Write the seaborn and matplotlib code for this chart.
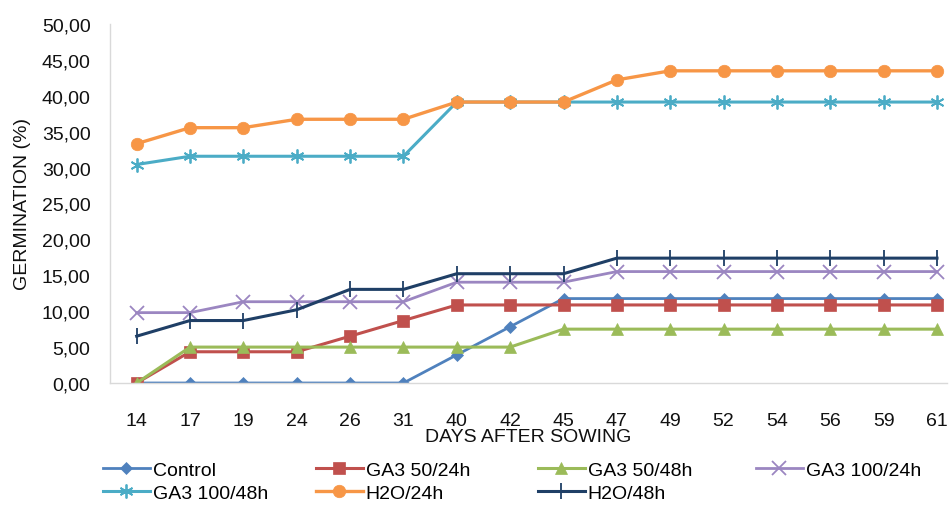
import matplotlib
matplotlib.use("Agg")
import matplotlib.pyplot as plt
import seaborn as sns
import pandas as pd
from matplotlib.ticker import FuncFormatter

days = ["14", "17", "19", "24", "26", "31", "40", "42", "45", "47", "49", "52", "54", "56", "59", "61"]

control      = [0, 0, 0, 0, 0, 0, 3.92, 7.84, 11.76, 11.76, 11.76, 11.76, 11.76, 11.76, 11.76, 11.76]
ga3_50_24    = [0, 4.35, 4.35, 4.35, 6.52, 8.70, 10.87, 10.87, 10.87, 10.87, 10.87, 10.87, 10.87, 10.87, 10.87, 10.87]
ga3_50_48    = [0, 5.0, 5.0, 5.0, 5.0, 5.0, 5.0, 5.0, 7.5, 7.5, 7.5, 7.5, 7.5, 7.5, 7.5, 7.5]
ga3_100_24   = [9.80, 9.80, 11.32, 11.32, 11.32, 11.32, 14.04, 14.04, 14.04, 15.52, 15.52, 15.52, 15.52, 15.52, 15.52, 15.52]
ga3_100_48   = [30.43, 31.58, 31.58, 31.58, 31.58, 31.58, 39.13, 39.13, 39.13, 39.13, 39.13, 39.13, 39.13, 39.13, 39.13, 39.13]
h2o_24       = [33.33, 35.56, 35.56, 36.73, 36.73, 36.73, 39.13, 39.13, 39.13, 42.22, 43.48, 43.48, 43.48, 43.48, 43.48, 43.48]
h2o_48       = [6.52, 8.70, 8.70, 10.20, 13.04, 13.04, 15.22, 15.22, 15.22, 17.39, 17.39, 17.39, 17.39, 17.39, 17.39, 17.39]

series_names = ["Control", "GA3 50/24h", "GA3 50/48h", "GA3 100/24h", "GA3 100/48h", "H2O/24h", "H2O/48h"]
series_vals = [control, ga3_50_24, ga3_50_48, ga3_100_24, ga3_100_48, h2o_24, h2o_48]
colors = ["#4F81BD", "#C0504D", "#9BBB59", "#9B86C1", "#4BACC6", "#F79646", "#1F3F66"]
markers = ["D", "s", "^", "x", (6, 2, 0), "o", "|"]
msizes = [6, 9, 8, 10, 10, 9, 11]
lwidths = [2.0, 2.2, 2.2, 2.0, 2.2, 2.4, 2.2]

plt.rcParams["font.family"] = ["Liberation Sans", "DejaVu Sans"]
FS = 14

fig = plt.figure(figsize=(9.5, 5.06), dpi=100)
ax = fig.add_axes([110/950, 1-384/506, (947-110)/950, (384-25)/506])

xs = list(range(len(days)))
handles = []
for name, vals, c, m, ms, lw in zip(series_names, series_vals, colors, markers, msizes, lwidths):
    df = pd.DataFrame({"x": xs, "y": vals})
    sns.lineplot(data=df, x="x", y="y", ax=ax, color=c, marker=m, markersize=ms,
                 markeredgecolor=c, markerfacecolor=c,
                 markeredgewidth=1.3 if m in ("x", "|") or isinstance(m, tuple) else 0.5,
                 linewidth=lw, label=name, legend=False)
    handles.append(ax.lines[-1])

ax.set_xlim(-0.5, 15 + 10/53.3)
ax.set_ylim(0, 50)
ax.set_yticks([0, 5, 10, 15, 20, 25, 30, 35, 40, 45, 50])
ax.yaxis.set_major_formatter(FuncFormatter(lambda v, p: f"{v:.2f}".replace(".", ",")))
ax.set_xticks(xs)
ax.set_xticklabels(days)
ax.tick_params(axis="both", length=0, labelsize=FS, colors="#111111")
ax.tick_params(axis="x", pad=21)
ax.tick_params(axis="y", pad=14)
for s in ["top", "right"]:
    ax.spines[s].set_visible(False)
for s in ["left", "bottom"]:
    ax.spines[s].set_color("#D9D9D9")
    ax.spines[s].set_linewidth(1.0)
ax.grid(False)
ax.set_facecolor("white")

ax.set_xlabel("DAYS AFTER SOWING", fontsize=FS, labelpad=-1, color="#111111")
ax.set_ylabel("GERMINATION (%)", fontsize=FS, labelpad=8, color="#111111")

# legend: four fixed-width columns, two rows
col_x = [103, 316, 538, 756]
columns = [[0, 4], [1, 5], [2, 6], [3]]
for cx, idxs in zip(col_x, columns):
    fig.legend([handles[i] for i in idxs], [series_names[i] for i in idxs],
               loc="upper left", bbox_to_anchor=(cx/950, 1-462/506), frameon=False,
               fontsize=FS, handlelength=2.4, handletextpad=0.15,
               labelspacing=0.3, borderpad=0, borderaxespad=0)

fig.savefig("out.png", dpi=100, facecolor="white")
